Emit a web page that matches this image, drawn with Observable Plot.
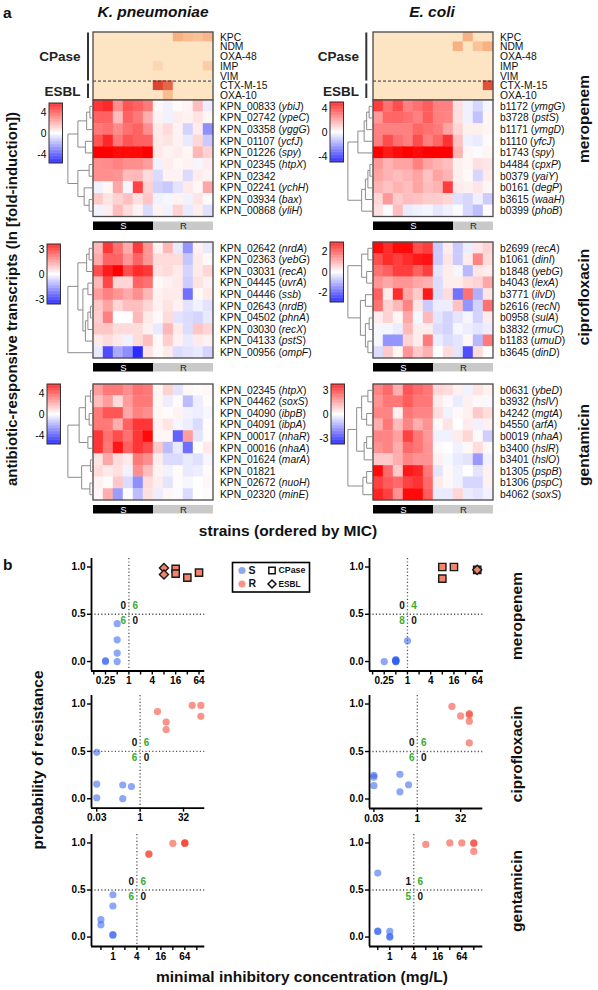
<!DOCTYPE html>
<html>
<head>
<meta charset="utf-8">
<script src="https://cdn.jsdelivr.net/npm/d3@7"></script>
<script src="https://cdn.jsdelivr.net/npm/@observablehq/plot@0.6"></script>
<style>
  html,body{margin:0;padding:0;background:#fff;}
  #page{position:relative;width:598px;height:990px;overflow:hidden;background:#fff;}
  #page svg{overflow:visible;}
</style>
</head>
<body>
<div id="page"></div>
<script>
// ================= DATA =================
const resistanceGenes = ["KPC","NDM","OXA-48","IMP","VIM","CTX-M-15","OXA-10"];
const kpCPase = [
  [0,0,0,0,0,0,0,0,0.45,0.35,0.3,0.4],
  [0,0,0,0,0,0,0,0,0,0,0,0],
  [0,0,0,0,0,0,0,0,0,0,0,0],
  [0,0,0,0,0,0,0.12,0,0,0,0,0.2],
  [0,0,0,0,0,0,0,0,0,0,0,0],
  [0,0,0,0,0,0,0.95,0.8,0,0,0,0],
  [0,0,0,0,0,0,0,0.35,0,0,0,0]
];
const ecCPase = [
  [0,0,0,0,0,0,0,0,0,0.45,0,0],
  [0,0,0,0,0,0,0,0,0.45,0,0.3,0.45],
  [0,0,0,0,0,0,0,0,0,0,0,0],
  [0,0,0,0,0,0,0,0,0,0,0,0],
  [0,0,0,0,0,0,0,0,0,0,0,0],
  [0,0,0,0,0,0,0,0,0,0,0,0.9],
  [0,0,0,0,0,0,0,0,0,0,0,0]
];

// K. pneumoniae meropenem
const kpMeroIds = ["KPN_00833","KPN_02742","KPN_03358","KPN_01107","KPN_01226","KPN_02345","KPN_02342","KPN_02241","KPN_03934","KPN_00868"];
const kpMeroNames = ["ybiJ","ypeC","yggG","ycfJ","spy","htpX","","ychH","bax","yliH"];
const kpMeroValues = [
  [4.5,4.8,2.5,3.8,3.5,3.0, 0.2,-0.3,0.1,0.3,1.5,-0.4],
  [3.5,3.5,1.5,3.5,3.0,1.8, 0.3,-0.3,0.4,0.3,0.6,0.2],
  [3.0,3.2,2.6,3.2,3.5,2.5, 0.5,0.8,0.3,-1.0,0.4,-2.5],
  [3.8,4.8,3.0,3.8,3.5,3.5, 0.5,0.6,0.3,-0.5,0.9,-1.2],
  [5.8,5.8,5.5,5.5,5.5,6.0, 0.5,0.3,0.4,0.2,1.6,1.0],
  [2.5,2.6,2.8,2.5,2.5,2.2, -0.3,0.4,0.2,0.3,-0.2,0.4],
  [2.5,2.5,2.4,1.5,1.6,0.8, -0.8,0.3,0.3,-0.8,0.4,0.3],
  [-0.3,0.2,2.0,-0.2,4.2,1.0, -1.0,-1.2,-0.6,0.5,0.2,2.0],
  [1.2,0.6,1.0,1.4,0.7,1.3, -0.3,-0.2,0.3,-0.3,0.6,0.1],
  [-0.3,0.4,1.5,0.8,0.3,-0.8, 0.3,-0.3,1.0,-0.5,0.4,-0.7]
];
const kpMeroLink = [[0,1,0.12],[10,2,0.25],[3,4,0.3],[11,12,0.6],[5,6,0.15],[8,9,0.15],[7,15,0.35],[14,16,0.6],[13,17,1]];

// E. coli meropenem
const ecMeroIds = ["b1172","b3728","b1171","b1110","b1743","b4484","b0379","b0161","b3615","b0399"];
const ecMeroNames = ["ymgG","pstS","ymgD","yfcJ","spy","cpxP","yaiY","degP","waaH","phoB"];
const ecMeroValues = [
  [3.8,2.8,3.5,2.5,2.8,3.2,2.5,2.5, 0.6,-0.3,-0.8,-0.2],
  [2.0,3.0,3.0,2.8,2.5,3.2,2.5,2.4, 0.6,-0.3,-1.2,0.2],
  [2.5,2.5,2.5,2.5,3.0,2.8,2.6,1.8, 0.8,0.3,0.3,0.2],
  [2.5,3.5,2.8,2.5,3.5,2.5,3.0,4.0, 1.2,-0.3,-0.4,0.1],
  [5.0,4.5,4.8,5.0,4.8,5.0,5.0,5.0, 1.5,0.2,-0.1,0.2],
  [2.0,1.5,1.8,1.8,2.5,1.8,1.5,1.3, 0.3,0.2,0.6,0.5],
  [1.8,1.5,1.3,1.5,1.8,1.2,1.8,1.5, 0.3,0.1,-0.8,0.4],
  [1.5,1.2,1.5,1.3,1.8,1.3,1.5,3.8, 0.4,0.3,0.5,0.2],
  [0.8,2.0,1.0,1.3,1.2,1.0,1.0,0.8, -0.6,-0.8,-0.3,-1.0],
  [0.6,-0.1,1.3,-0.4,-0.3,-0.2,-0.5,-0.3, -0.1,-0.8,-1.3,0.1]
];
const ecMeroLink = [[0,1,0.15],[10,2,0.25],[11,3,0.35],[12,4,0.6],[5,6,0.12],[14,7,0.2],[15,8,0.3],[16,9,0.45],[13,17,1]];

// K. pneumoniae ciprofloxacin
const kpCiproIds = ["KPN_02642","KPN_02363","KPN_03031","KPN_04445","KPN_04446","KPN_02643","KPN_04502","KPN_03030","KPN_04133","KPN_00956"];
const kpCiproNames = ["nrdA","yebG","recA","uvrA","ssb","nrdB","phnA","recX","pstS","ompF"];
const kpCiproValues = [
  [1.0,2.8,2.0,1.2,2.8,1.5, 0.2,1.0,-0.3,-1.5,0.2,-0.3],
  [1.2,2.2,2.2,1.5,2.2,1.5, 0.5,0.5,0.5,-0.8,0.3,0.1],
  [2.5,3.2,3.6,2.5,3.0,2.8, 0.4,0.5,0.3,-0.6,0.3,0.6],
  [1.0,2.6,0.6,0.6,2.2,2.0, 0.1,0.2,0.3,-0.7,0.4,0.2],
  [1.4,1.8,1.5,1.2,1.6,1.0, 0.2,0.3,0.3,-2.0,0.1,0.3],
  [0.8,1.3,0.6,0.9,0.9,0.6, 0.2,0.4,0.2,-0.4,-0.2,-0.4],
  [0.7,1.8,0.0,0.0,1.0,0.3, 0.1,0.5,-0.4,-0.5,-0.6,-0.3],
  [0.8,0.8,0.5,0.5,0.5,0.2, -0.3,1.0,0.3,-0.5,0.8,0.6],
  [0.3,0.5,0.3,-0.2,0.5,0.9, 0.1,0.7,0.2,-0.3,0.3,0.2],
  [-0.3,-2.5,-1.2,-1.6,-3.0,0.4, 0.1,0.3,-0.5,-0.4,-0.3,-0.6]
];
const kpCiproLink = [[0,1,0.15],[10,2,0.25],[3,4,0.2],[5,6,0.1],[13,7,0.2],[14,8,0.3],[12,15,0.4],[11,16,0.6],[17,9,1]];

// E. coli ciprofloxacin
const ecCiproIds = ["b2699","b1061","b1848","b4043","b3771","b2616","b0958","b3832","b1183","b3645"];
const ecCiproNames = ["recA","dinI","yebG","lexA","ilvD","recN","sulA","rmuC","umuD","dinD"];
const ecCiproValues = [
  [2.8,2.4,2.8,2.8,2.0,2.2, -0.6,0.2,-0.6,-0.2,0.3,0.5],
  [2.0,2.4,2.2,2.4,2.6,2.7, -0.6,0.3,-0.6,0.2,1.4,0.4],
  [1.6,1.8,2.2,2.2,1.8,2.2, -0.3,0.2,-0.1,-0.8,0.3,0.2],
  [1.2,1.0,1.2,1.2,1.0,0.9, -0.4,0.2,0.2,0.4,0.5,1.0],
  [1.8,0.2,2.4,1.0,0.6,2.6, -0.4,0.4,-1.6,1.6,-0.9,0.3],
  [1.6,0.5,0.8,1.4,0.3,-0.6, -0.2,-0.2,0.7,-1.2,-0.5,1.6],
  [0.2,0.5,0.1,1.0,-0.1,0.8, -0.3,-0.5,-0.3,-0.1,-0.5,0.2],
  [-0.1,-0.1,-0.2,0.8,0.2,0.2, -0.4,-0.5,-0.1,-0.2,-0.3,-0.2],
  [-0.1,-1.2,-1.2,0.5,0.2,1.5, -0.2,-0.4,-0.3,0.1,-0.8,1.5],
  [-0.4,0.6,0.1,1.2,0.6,0.9, 0.0,0.4,-0.3,-2.0,0.4,0.0]
];
const ecCiproLink = [[0,1,0.2],[2,3,0.25],[10,11,0.45],[4,5,0.3],[6,7,0.15],[8,9,0.2],[14,15,0.3],[13,16,0.5],[12,17,1]];

// K. pneumoniae gentamicin
const kpGentIds = ["KPN_02345","KPN_04462","KPN_04090","KPN_04091","KPN_00017","KPN_00016","KPN_01624","KPN_01821","KPN_02672","KPN_02320"];
const kpGentNames = ["htpX","soxS","ibpB","ibpA","nhaR","nhaA","marA","","nuoH","minE"];
const kpGentValues = [
  [2.2,3.0,3.0,2.5,3.2,3.0, 0.2,1.0,-0.6,0.2,0.1,0.2],
  [1.5,2.2,0.8,2.2,3.0,3.0, 0.2,-0.4,0.1,-1.5,-0.4,0.1],
  [3.0,3.8,3.8,2.0,2.8,2.5, 0.2,0.1,0.3,-0.3,-0.4,-0.2],
  [3.0,3.0,1.8,3.5,4.5,4.5, 0.3,0.6,-0.2,-0.4,-0.8,0.1],
  [4.5,3.2,4.0,3.2,4.5,5.5, 0.2,0.2,-3.5,2.2,-0.6,0.1],
  [4.5,3.0,5.2,3.5,4.5,4.0, 1.2,-1.5,-0.5,-3.2,0.0,0.5],
  [0.6,2.0,0.8,0.5,3.0,2.5, 0.4,-0.8,-0.8,-0.5,-0.7,-0.2],
  [0.8,0.5,0.7,-0.3,2.5,1.5, 0.3,-0.3,0.1,-0.5,-0.4,0.1],
  [0.3,0.1,1.2,-0.8,-2.5,0.8, 0.4,-0.6,0.1,-0.2,0.0,0.2],
  [0.2,1.8,-2.2,0.1,-1.5,0.7, -0.4,0.2,-0.1,-0.8,0.0,0.1]
];
const kpGentLink = [[0,1,0.1],[2,3,0.15],[10,11,0.3],[4,5,0.2],[12,13,0.55],[6,7,0.1],[8,9,0.12],[15,16,0.45],[14,17,1]];

// E. coli gentamicin
const ecGentIds = ["b0631","b3932","b4242","b4550","b0019","b3400","b3401","b1305","b1306","b4062"];
const ecGentNames = ["ybeD","hslV","mgtA","arfA","nhaA","hslR","hslO","pspB","pspC","soxS"];
const ecGentValues = [
  [1.8,2.2,1.2,2.5,2.2,2.0, 0.6,0.5,0.2,-0.2,0.4,0.2],
  [1.6,2.0,2.0,2.4,2.0,2.0, 0.3,0.1,-0.3,0.2,0.1,-0.1],
  [1.8,1.8,0.2,2.0,1.8,1.8, 0.5,-0.2,0.1,0.2,0.8,0.5],
  [1.2,2.0,1.0,1.8,1.2,1.6, 0.1,0.4,0.0,0.3,-0.2,0.2],
  [1.8,1.8,1.4,2.8,2.0,1.5, -0.2,-0.2,0.3,0.6,0.1,-0.7],
  [1.6,1.8,1.2,2.2,2.0,1.6, 0.1,0.0,-0.2,0.1,0.5,0.1],
  [0.8,0.8,1.2,1.8,1.6,1.6, 0.2,-0.1,-0.3,-0.4,-1.5,-0.2],
  [3.6,2.2,0.8,3.4,3.2,2.0, -0.4,0.1,-0.2,0.0,-0.4,0.2],
  [2.8,2.4,2.2,2.8,3.0,2.2, 0.3,0.1,-0.2,-0.6,-0.6,0.2],
  [3.2,2.8,1.6,3.6,3.6,2.4, -0.3,-0.3,0.6,-0.3,-0.4,-0.2]
];
const ecGentLink = [[0,1,0.2],[2,3,0.25],[10,11,0.45],[4,5,0.25],[13,6,0.35],[12,14,0.65],[7,8,0.25],[16,9,0.4],[15,17,1]];

// colour-bar tick labels
const kpMeroTicks = [4,0,-4], ecMeroTicks = [4,0,-4];
const kpCiproTicks = [3,0,-3], ecCiproTicks = [2,0,-2];
const kpGentTicks = [4,0,-4], ecGentTicks = [3,0,-3];

// ----- panel b: MIC (mg/L) vs probability of resistance -----
const kpMeroS_mic = [0.25,0.25,0.5,0.5,0.5,0.5];
const kpMeroS_p   = [0.0,0.01,0.0,0.09,0.23,0.40];
const kpMeroR_mic = [8,8,16,16,32,64];
const kpMeroR_p   = [0.99,0.92,0.98,0.93,0.887,0.94];
const kpMeroR_type= ["ESBL","ESBL","CPase","CPase","CPase","CPase"];
const kpMeroCounts = [0,6,6,0];

const ecMeroS_mic = [0.25,0.5,0.5,0.5,0.5,0.5,0.5,1];
const ecMeroS_p   = [0.0,0.0,0.01,0.02,0.005,0.015,0.0,0.22];
const ecMeroR_mic = [8,8,16,64];
const ecMeroR_p   = [1.0,0.877,1.0,0.97];
const ecMeroR_type= ["CPase","CPase","CPase","both"];
const ecMeroCounts = [0,4,8,0];

const kpCiproS_mic = [0.03125,0.03125,0.03125,0.25,0.25,0.5];
const kpCiproS_p   = [0.49,0.155,0.01,0.145,0.0,0.128];
const kpCiproR_mic = [4,8,8,64,128,128];
const kpCiproR_p   = [0.92,0.81,0.73,0.985,0.985,0.87];
const kpCiproCounts = [0,6,6,0];

const ecCiproS_mic = [0.03125,0.03125,0.03125,0.25,0.25,0.5];
const ecCiproS_p   = [0.25,0.23,0.14,0.26,0.075,0.15];
const ecCiproR_mic = [16,32,64,64,64,64];
const ecCiproR_p   = [0.975,0.875,0.9,0.885,0.82,0.59];
const ecCiproCounts = [0,6,6,0];

const kpGentS_mic = [0.5,0.5,1,1,1,1];
const kpGentS_p   = [0.185,0.13,0.45,0.33,0.025,0.02];
const kpGentR_mic = [8,8,32,64,64,64];
const kpGentR_p   = [0.88,0.885,0.995,1.0,1.0,0.995];
const kpGentCounts = [0,6,6,0];

const ecGentS_mic = [0.5,0.5,0.5,1,1,1];
const ecGentS_p   = [0.68,0.063,0.06,0.06,0.0,0.005];
const ecGentR_mic = [8,32,64,128,128,128];
const ecGentR_p   = [0.985,1.0,1.0,1.0,0.995,0.91];
const ecGentCounts = [1,6,5,0];

const meroTicks = [0.125,0.25,0.5,1,2,4,8,16,32,64];
const meroTickLabels = [0.25,1,4,16,64];
const ciproTicks = [0.03125,1,32];
const ciproTickLabels = [0.03125,1,32];
const gentTicks = [0.5,1,2,4,8,16,32,64,128];
const gentTickLabels = [1,4,16,64];

const legendItems = ["S","R","CPase","ESBL"];

// ================= DRAWING =================
const FONT = '"Liberation Sans", Arial, Helvetica, sans-serif';
const BLUE = "#2f5ef0", RED = "#f23d2a", SQFILL = "#f4836e", GREEN = "#35ad2c";
const page = document.getElementById("page");
const baseStyle = {background: "transparent", fontFamily: FONT, overflow: "visible"};

function put(el, left, top) {
  el.style.position = "absolute";
  el.style.left = left + "px";
  el.style.top = top + "px";
  page.appendChild(el);
  return el;
}

function italicize(svg) {
  svg.querySelectorAll("text").forEach(t => {
    if (t.querySelector("tspan")) return;
    const m = t.textContent.match(/^(.*\()([^()]+)(\))$/);
    if (!m) return;
    t.textContent = "";
    t.appendChild(document.createTextNode(m[1]));
    const ts = document.createElementNS("http://www.w3.org/2000/svg", "tspan");
    ts.setAttribute("font-style", "italic");
    ts.textContent = m[2];
    t.appendChild(ts);
    t.appendChild(document.createTextNode(m[3]));
  });
}

function dendroSegments(link, n, depth) {
  const nodes = [];
  for (let i = 0; i < n; i++) nodes.push({y: i + 0.5, h: 0});
  const X = h => -0.06 - depth * h;
  const segs = [];
  for (const [a, b, h] of link) {
    const A = nodes[a], B = nodes[b];
    segs.push({x1: X(A.h), y1: A.y, x2: X(h), y2: A.y});
    segs.push({x1: X(B.h), y1: B.y, x2: X(h), y2: B.y});
    segs.push({x1: X(h), y1: A.y, x2: X(h), y2: B.y});
    nodes.push({y: (A.y + B.y) / 2, h});
  }
  return segs;
}

const NCOL = 12, BOXW = 120, PADL = 60, PADT = 4, HW = 285;

function heatChart(b) {
  const nR = b.values.length;
  const rowH = b.boxH / nR;
  const cells = b.values.flatMap((row, r) => row.map((v, c) => ({r, c, v})));
  const labels = b.ids.map((id, i) => ({i, t: b.names[i] ? `${id} (${b.names[i]})` : id}));
  const segs = dendroSegments(b.link, nR, 2.5);
  const by1 = nR + 5 / rowH, by2 = nR + 13.5 / rowH, bym = (by1 + by2) / 2;
  const barS = [{c1: 0, c2: b.nS, g: "S"}], barR = [{c1: b.nS, c2: NCOL, g: "R"}];
  const chart = Plot.plot({
    width: HW, height: b.boxH + PADT + 20, margin: 0,
    style: baseStyle,
    x: {domain: [0, NCOL], range: [PADL, PADL + BOXW], axis: null},
    y: {domain: [0, nR], range: [PADT, PADT + b.boxH], axis: null},
    color: {type: "linear", domain: [-b.max, 0, b.max], range: ["#0000ff", "#ffffff", "#ff0000"], clamp: true},
    marks: [
      Plot.rect(cells, {x1: "c", x2: d => d.c + 1, y1: "r", y2: d => d.r + 1, fill: "v", stroke: "v", strokeWidth: 0.4}),
      Plot.rect([0], {x1: 0, x2: NCOL, y1: 0, y2: nR, fill: "none", stroke: "#4a4a4a", strokeWidth: 1.3}),
      Plot.link(segs, {x1: "x1", y1: "y1", x2: "x2", y2: "y2", stroke: "#8c8c8c", strokeWidth: 1}),
      Plot.text(labels, {x: NCOL, y: d => d.i + 0.5, text: "t", textAnchor: "start", dx: 6.5, fontSize: 10.3, fill: "#111"}),
      Plot.rect(barS, {x1: "c1", x2: "c2", y1: by1, y2: by2, fill: "#000"}),
      Plot.rect(barR, {x1: "c1", x2: "c2", y1: by1, y2: by2, fill: "#c9c9c9"}),
      Plot.text(barS, {x: d => (d.c1 + d.c2) / 2, y: bym, text: "g", fill: "#fff", fontSize: 9.5}),
      Plot.text(barR, {x: d => (d.c1 + d.c2) / 2, y: bym, text: "g", fill: "#222", fontSize: 9.5})
    ]
  });
  italicize(chart);
  put(chart, b.boxX - PADL, b.boxY - PADT);
}

function cpaseChart(b) {
  const nR = b.values.length;
  const cells = b.values.flatMap((row, r) => row.map((v, c) => ({r, c, v})));
  const labels = b.rows.map((t, i) => ({i, t}));
  const PL = 92;
  const chart = Plot.plot({
    width: PL + BOXW + 80, height: b.boxH + 8, margin: 0,
    style: baseStyle,
    x: {domain: [0, NCOL], range: [PL, PL + BOXW], axis: null},
    y: {domain: [0, nR], range: [PADT, PADT + b.boxH], axis: null},
    color: {type: "linear", domain: [0, 0.5, 1], range: ["#fde4c3", "#f7ab7c", "#d93a28"], clamp: true},
    marks: [
      Plot.rect(cells, {x1: "c", x2: d => d.c + 1, y1: "r", y2: d => d.r + 1, fill: "v", stroke: "v", strokeWidth: 0.4}),
      Plot.ruleY([5], {x1: 0, x2: NCOL, stroke: "#333", strokeWidth: 1, strokeDasharray: "3,2"}),
      Plot.rect([0], {x1: 0, x2: NCOL, y1: 0, y2: nR, fill: "none", stroke: "#4a4a4a", strokeWidth: 1.3}),
      Plot.text(labels, {x: NCOL, y: d => d.i + 0.5, text: "t", textAnchor: "start", dx: 6.5, fontSize: 10.3, fill: "#111"}),
      Plot.ruleX([b.br], {y1: 0.05, y2: 5.0, stroke: "#333", strokeWidth: 2}),
      Plot.ruleX([b.br], {y1: 5.3, y2: 6.8, stroke: "#333", strokeWidth: 2}),
      Plot.text(["CPase"], {x: b.tx, y: 2.5, text: d => d, textAnchor: "end", fontSize: 13.5, fontWeight: "bold", fill: "#222"}),
      Plot.text(["ESBL"], {x: b.tx, y: 6.05, text: d => d, textAnchor: "end", fontSize: 13.5, fontWeight: "bold", fill: "#222"})
    ]
  });
  put(chart, b.boxX - PL, b.boxY - PADT);
}

function colorbar(b) {
  const steps = d3.range(80).map(i => -b.max + 2 * b.max * i / 80);
  const st = 2 * b.max / 80;
  const ML = 24;
  const chart = Plot.plot({
    width: ML + 13.5 + 2, height: 64, marginLeft: ML, marginRight: 2, marginTop: 2, marginBottom: 2,
    style: baseStyle,
    x: {domain: [0, 1], axis: null},
    y: {domain: [-b.max, b.max]},
    color: {type: "linear", domain: [-b.max, 0, b.max], range: ["#0000ff", "#ffffff", "#ff0000"], clamp: true},
    marks: [
      Plot.rect(steps, {x1: 0, x2: 1, y1: d => d, y2: d => d + st, fill: d => d + st / 2}),
      Plot.rect([0], {x1: 0, x2: 1, y1: -b.max, y2: b.max, fill: "none", stroke: "#333", strokeWidth: 1}),
      Plot.axisY(b.ticks, {tickSize: 0, tickPadding: 3, fontSize: 10.3, tickFormat: d => String(d), label: null})
    ]
  });
  put(chart, b.x - ML, b.y - 2);
}

const Y0 = -0.1, Y1 = 1.09;
function scatterChart(o) {
  const PL = 42, PR = 8, PT = 8, PB = 24;
  const S = o.sMic.map((m, i) => ({mic: m, p: o.sP[i]}));
  const R = o.rMic.map((m, i) => ({mic: m, p: o.rP[i], t: o.rType ? o.rType[i] : "none"}));
  const dotted = {stroke: "#555", strokeWidth: 1.3, strokeDasharray: "1.2,2.2"};
  const quad = [[-5.5, -8.3, "#111"], [6.5, -8.3, GREEN], [-5.5, 6.3, GREEN], [6.5, 6.3, "#111"]];
  const fmt = d => o.labels.includes(d) ? (d === 0.03125 ? "0.03" : String(d)) : "";
  const chart = Plot.plot({
    width: (o.x1 - o.x0) + PL + PR, height: (o.y1 - o.y0) + PT + PB,
    marginLeft: PL, marginRight: PR, marginTop: PT, marginBottom: PB,
    style: {...baseStyle, fontWeight: "bold"},
    x: {type: "log", base: 2, domain: o.xDomain},
    y: {domain: [Y0, Y1]},
    marks: [
      Plot.ruleY([0.5], dotted),
      Plot.ruleX([o.bp], dotted),
      Plot.dot(S, {x: "mic", y: "p", r: 3.6, fill: BLUE, fillOpacity: 0.55}),
      Plot.dot(R.filter(d => d.t === "none"), {x: "mic", y: "p", r: 3.6, fill: RED, fillOpacity: 0.55}),
      Plot.dot(R.filter(d => d.t === "CPase" || d.t === "both"), {x: "mic", y: "p", symbol: "square", r: 4.1, fill: SQFILL, stroke: "#1a1a1a", strokeWidth: 1.4}),
      Plot.dot(R.filter(d => d.t === "ESBL" || d.t === "both"), {x: "mic", y: "p", symbol: "diamond2", r: 4.1, fill: SQFILL, stroke: "#1a1a1a", strokeWidth: 1.4}),
      ...o.counts.map((n, k) => Plot.text([n], {x: o.bp, y: 0.5, text: d => String(d), dx: quad[k][0], dy: quad[k][1], fill: quad[k][2], fontSize: 10, fontWeight: "bold"})),
      Plot.ruleX([o.xDomain[0]], {stroke: "#000", strokeWidth: 1.8}),
      Plot.ruleY([Y0], {stroke: "#000", strokeWidth: 1.8}),
      Plot.axisX(o.ticks, {tickSize: 4, tickPadding: 2, strokeWidth: 1.4, tickFormat: fmt, fontSize: 10, fontWeight: "bold", label: null}),
      Plot.axisY([0, 0.5, 1], {tickSize: 4, tickPadding: 2, strokeWidth: 1.4, tickFormat: d3.format(".1f"), fontSize: 10, fontWeight: "bold", label: null})
    ]
  });
  put(chart, o.x0 - PL, o.y0 - PT);
}

function legendBox() {
  const pos = [[0, 0], [0, 1], [1, 0], [1, 1]];
  const items = legendItems.map((label, k) => ({label, col: pos[k][0], row: pos[k][1]}));
  const style = [
    {symbol: "circle", r: 3.6, fill: BLUE, fillOpacity: 0.55},
    {symbol: "circle", r: 3.6, fill: RED, fillOpacity: 0.55},
    {symbol: "square", r: 3.6, fill: "#fff", stroke: "#111", strokeWidth: 1.5},
    {symbol: "diamond2", r: 3.6, fill: "#fff", stroke: "#111", strokeWidth: 1.5}
  ];
  const fs = [10.5, 10.5, 8.8, 8.3];
  const chart = Plot.plot({
    width: 77, height: 29.5, margin: 0,
    style: {...baseStyle, fontWeight: "bold"},
    x: {type: "linear", domain: [0, 1], range: [9.5, 39.5], axis: null},
    y: {type: "linear", domain: [0, 1], range: [8, 21.5], axis: null},
    marks: [
      Plot.frame({stroke: "#000", strokeWidth: 1.6}),
      ...items.map((it, k) => Plot.dot([it], {x: "col", y: "row", ...style[k]})),
      ...items.map((it, k) => Plot.text([it], {x: "col", y: "row", text: "label", dx: 6.5, textAnchor: "start", fontSize: fs[k], fontWeight: "bold", fill: "#111"}))
    ]
  });
  put(chart, 232, 561.5);
}

function label(text, x, y, size, opt = {}) {
  const d = document.createElement("div");
  d.textContent = text;
  const tx = opt.anchor === "start" ? "0" : "-50%";
  d.style.cssText = `position:absolute;left:${x}px;top:${y}px;font-family:${FONT};font-weight:bold;` +
    `font-style:${opt.italic ? "italic" : "normal"};font-size:${size}px;line-height:1;white-space:nowrap;color:#111;` +
    `transform:translate(${tx},-50%)${opt.rotate ? " rotate(-90deg)" : ""};`;
  page.appendChild(d);
}

// ---- panel a ----
const LX = 92.5, RX = 372.5;
cpaseChart({boxX: LX, boxY: 31.5, boxH: 68, values: kpCPase, rows: resistanceGenes, br: -0.55, tx: -1.3});
cpaseChart({boxX: RX, boxY: 31.5, boxH: 68, values: ecCPase, rows: resistanceGenes, br: -0.72, tx: -1.45});

heatChart({boxX: LX, boxY: 99.5, boxH: 116.5, values: kpMeroValues, ids: kpMeroIds, names: kpMeroNames, nS: 6, max: 5.7, link: kpMeroLink});
heatChart({boxX: RX, boxY: 99.5, boxH: 116.5, values: ecMeroValues, ids: ecMeroIds, names: ecMeroNames, nS: 8, max: 5.0, link: ecMeroLink});
heatChart({boxX: LX, boxY: 242.3, boxH: 116, values: kpCiproValues, ids: kpCiproIds, names: kpCiproNames, nS: 6, max: 3.6, link: kpCiproLink});
heatChart({boxX: RX, boxY: 242.3, boxH: 116, values: ecCiproValues, ids: ecCiproIds, names: ecCiproNames, nS: 6, max: 2.9, link: ecCiproLink});
heatChart({boxX: LX, boxY: 384, boxH: 116, values: kpGentValues, ids: kpGentIds, names: kpGentNames, nS: 6, max: 5.7, link: kpGentLink});
heatChart({boxX: RX, boxY: 384, boxH: 116, values: ecGentValues, ids: ecGentIds, names: ecGentNames, nS: 6, max: 3.75, link: ecGentLink});

colorbar({x: 48.5, y: 103, max: 5.7, ticks: kpMeroTicks});
colorbar({x: 329.5, y: 102, max: 5.0, ticks: ecMeroTicks});
colorbar({x: 47, y: 244, max: 3.6, ticks: kpCiproTicks});
colorbar({x: 330, y: 242, max: 2.9, ticks: ecCiproTicks});
colorbar({x: 47, y: 384, max: 5.7, ticks: kpGentTicks});
colorbar({x: 330.5, y: 384, max: 3.75, ticks: ecGentTicks});

// ---- panel b ----
scatterChart({x0: 90.7, x1: 204, y0: 557.5, y1: 670, xDomain: [0.109, 90], bp: 1, ticks: meroTicks, labels: meroTickLabels,
  sMic: kpMeroS_mic, sP: kpMeroS_p, rMic: kpMeroR_mic, rP: kpMeroR_p, rType: kpMeroR_type, counts: kpMeroCounts});
scatterChart({x0: 368.5, x1: 482.3, y0: 557.5, y1: 670, xDomain: [0.104, 92], bp: 1, ticks: meroTicks, labels: meroTickLabels,
  sMic: ecMeroS_mic, sP: ecMeroS_p, rMic: ecMeroR_mic, rP: ecMeroR_p, rType: ecMeroR_type, counts: ecMeroCounts});
scatterChart({x0: 90.7, x1: 204, y0: 695, y1: 807.7, xDomain: [0.0206, 175], bp: 1, ticks: ciproTicks, labels: ciproTickLabels,
  sMic: kpCiproS_mic, sP: kpCiproS_p, rMic: kpCiproR_mic, rP: kpCiproR_p, counts: kpCiproCounts});
scatterChart({x0: 369, x1: 482.3, y0: 695, y1: 808, xDomain: [0.022, 188], bp: 1, ticks: ciproTicks, labels: ciproTickLabels,
  sMic: ecCiproS_mic, sP: ecCiproS_p, rMic: ecCiproR_mic, rP: ecCiproR_p, counts: ecCiproCounts});
scatterChart({x0: 90.7, x1: 204, y0: 834, y1: 946, xDomain: [0.29, 203], bp: 4, ticks: gentTicks, labels: gentTickLabels,
  sMic: kpGentS_mic, sP: kpGentS_p, rMic: kpGentR_mic, rP: kpGentR_p, counts: kpGentCounts});
scatterChart({x0: 369, x1: 482.3, y0: 834, y1: 946, xDomain: [0.31, 215], bp: 4, ticks: gentTicks, labels: gentTickLabels,
  sMic: ecGentS_mic, sP: ecGentS_p, rMic: ecGentR_mic, rP: ecGentR_p, counts: ecGentCounts});
legendBox();

// ---- text ----
label("a", 3, 12.5, 15.5, {anchor: "start"});
label("K. pneumoniae", 153, 12, 15.5, {italic: true});
label("E. coli", 432, 12, 15.5, {italic: true});
label("antibiotic-responsive transcripts (ln [fold-induction])", 11, 299, 15, {rotate: true});
label("meropenem", 584, 119, 15.5, {rotate: true});
label("ciprofloxacin", 584, 297, 15.5, {rotate: true});
label("gentamicin", 584, 445, 15.5, {rotate: true});
label("strains (ordered by MIC)", 288, 531, 15.5);
label("b", 3, 565, 15.5, {anchor: "start"});
label("probability of resistance", 38, 760, 15.5, {rotate: true});
label("minimal inhibitory concentration (mg/L)", 302, 977, 15.5);
label("meropenem", 517, 616, 15.5, {rotate: true});
label("ciprofloxacin", 517, 754, 15.5, {rotate: true});
label("gentamicin", 517, 891, 15.5, {rotate: true});
</script>
</body>
</html>
